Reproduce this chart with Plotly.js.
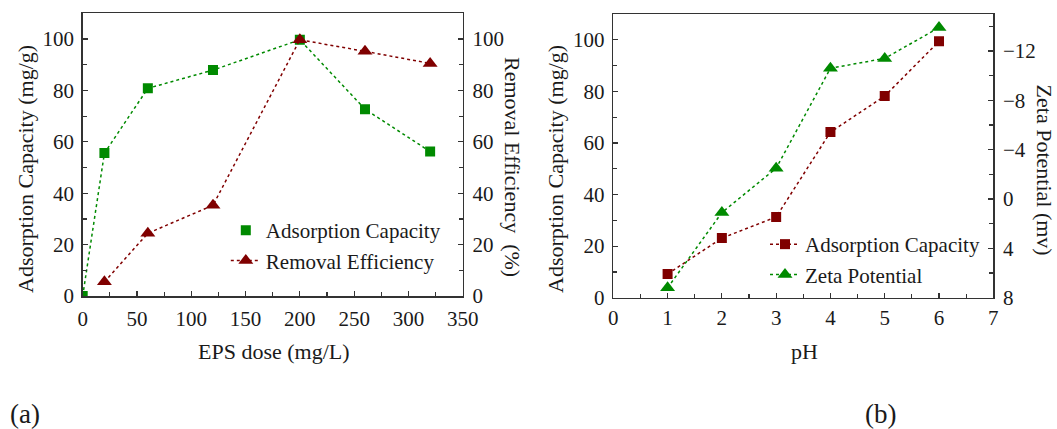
<!DOCTYPE html>
<html>
<head>
<meta charset="utf-8">
<script src="https://cdn.plot.ly/plotly-3.0.1.min.js"></script>
<style>html,body{margin:0;padding:0;background:#fff;}#chart{width:1057px;height:429px;}</style>
</head>
<body>
<div id="chart"></div>
<script>
// ---- data (a) ----
const epsDose = [0, 20, 60, 120, 200, 260, 320];
const adsorptionA = [0, 55.6, 80.8, 87.9, 99.7, 72.7, 56.2];
const epsDoseRE = [20, 60, 120, 200, 260, 320];
const removalEff = [5.5, 24.4, 35.3, 99.7, 95.2, 90.5];
// ---- data (b) ----
const pH = [1, 2, 3, 4, 5, 6];
const adsorptionB = [9.2, 23.1, 31.3, 64.2, 78.2, 99.4];
const zetaPot = [7.2, 1.1, -2.5, -10.6, -11.4, -13.9];

const W = 1057, H = 429;
const px = v => v / W;
const py = v => 1 - v / H;

const GREEN = '#008a00';
const RED = '#800000';
const FONT = '"Liberation Serif"';
const TXT = '#1a1a1a';

const traces = [
  {x: epsDose, y: adsorptionA, xaxis: 'x', yaxis: 'y', mode: 'lines', showlegend: false,
   line: {color: GREEN, dash: 'dot', width: 1.5}, hoverinfo: 'skip'},
  {x: epsDose, y: adsorptionA, xaxis: 'x', yaxis: 'y', mode: 'markers', name: 'Adsorption Capacity',
   legend: 'legend', marker: {symbol: 'square', size: 10, color: GREEN}},
  {x: epsDoseRE, y: removalEff, xaxis: 'x', yaxis: 'y2', mode: 'lines+markers', name: 'Removal Efficiency',
   legend: 'legend', line: {color: RED, dash: 'dot', width: 1.5},
   marker: {symbol: 'triangle-up', size: 13, color: RED}},
  {x: pH, y: adsorptionB, xaxis: 'x2', yaxis: 'y3', mode: 'lines+markers', name: 'Adsorption Capacity',
   legend: 'legend2', line: {color: RED, dash: 'dot', width: 1.5},
   marker: {symbol: 'square', size: 10, color: RED}},
  {x: pH, y: zetaPot, xaxis: 'x2', yaxis: 'y4', mode: 'lines+markers', name: 'Zeta Potential',
   legend: 'legend2', line: {color: GREEN, dash: 'dot', width: 1.5},
   marker: {symbol: 'triangle-up', size: 13, color: GREEN}}
];

const axCommon = {
  showline: true, linecolor: '#333', linewidth: 1.5, showgrid: false, zeroline: false,
  ticks: 'inside', ticklen: 5, tickwidth: 1.2, tickcolor: '#333',
  tickfont: {family: FONT, size: 21, color: TXT}
};

const layout = {
  width: W, height: H,
  margin: {l: 0, r: 0, t: 0, b: 0},
  paper_bgcolor: '#fff', plot_bgcolor: '#fff',
  font: {family: FONT, color: TXT},
  xaxis: Object.assign({}, axCommon, {
    domain: [px(82.7), px(462.7)], anchor: 'y', range: [0, 350], dtick: 50, mirror: true,
    minor: {dtick: 25, ticks: 'inside', ticklen: 4, tickcolor: '#333'}, ticklabelstandoff: 3
  }),
  yaxis: Object.assign({}, axCommon, {
    domain: [py(296), py(13.3)], anchor: 'x', range: [0, 110], dtick: 20,
    minor: {dtick: 10, ticks: 'inside', ticklen: 4, tickcolor: '#333'}, ticklabelstandoff: 3
  }),
  yaxis2: Object.assign({}, axCommon, {
    overlaying: 'y', side: 'right', anchor: 'x', range: [0, 110], dtick: 20,
    minor: {dtick: 10, ticks: 'inside', ticklen: 4, tickcolor: '#333'}, ticklabelstandoff: 4
  }),
  xaxis2: Object.assign({}, axCommon, {
    domain: [px(613.3), px(993.3)], anchor: 'y3', range: [0, 7], dtick: 1, mirror: true,
    minor: {dtick: 0.5, ticks: 'inside', ticklen: 4, tickcolor: '#333'}, ticklabelstandoff: 1
  }),
  yaxis3: Object.assign({}, axCommon, {
    domain: [py(297.7), py(14)], anchor: 'x2', range: [0, 110], dtick: 20,
    minor: {dtick: 10, ticks: 'inside', ticklen: 4, tickcolor: '#333'}, ticklabelstandoff: 3
  }),
  yaxis4: Object.assign({}, axCommon, {
    overlaying: 'y3', side: 'right', anchor: 'x2', range: [8, -15], tickvals: [-12, -8, -4, 0, 4, 8],
    minor: {tickvals: [-14, -10, -6, -2, 2, 6], ticks: 'inside', ticklen: 4, tickcolor: '#333'}, ticklabelstandoff: 4
  }),
  legend: {
    x: px(225.8), y: py(210), xanchor: 'left', yanchor: 'top', bgcolor: 'rgba(0,0,0,0)',
    font: {family: FONT, size: 21, color: TXT}, tracegroupgap: 0
  },
  legend2: {
    x: px(765), y: py(224), xanchor: 'left', yanchor: 'top', bgcolor: 'rgba(0,0,0,0)',
    font: {family: FONT, size: 21, color: TXT}, tracegroupgap: 0
  },
  annotations: [
    {text: 'Adsorption Capacity (mg/g)', x: px(25), y: py(169), textangle: -90},
    {text: 'Removal Efficiency\u00A0\u00A0(%)', x: px(513), y: py(167), textangle: 90},
    {text: 'EPS dose (mg/L)', x: px(274), y: py(351), textangle: 0},
    {text: 'Adsorption Capacity (mg/g)', x: px(555), y: py(169), textangle: -90},
    {text: 'Zeta Potential (mv)', x: px(1044), y: py(169.6), textangle: 90},
    {text: 'pH', x: px(804), y: py(351), textangle: 0},
    {text: '(a)', x: px(24.5), y: py(414), textangle: 0, size: 27},
    {text: '(b)', x: px(880), y: py(414), textangle: 0, size: 27}
  ].map(a => ({
    text: a.text, x: a.x, y: a.y, xref: 'paper', yref: 'paper', showarrow: false,
    xanchor: 'center', yanchor: 'middle', textangle: a.textangle,
    font: {family: FONT, size: a.size || 22, color: TXT}
  }))
};

Plotly.newPlot('chart', traces, layout, {displayModeBar: false, staticPlot: true});
</script>
</body>
</html>
